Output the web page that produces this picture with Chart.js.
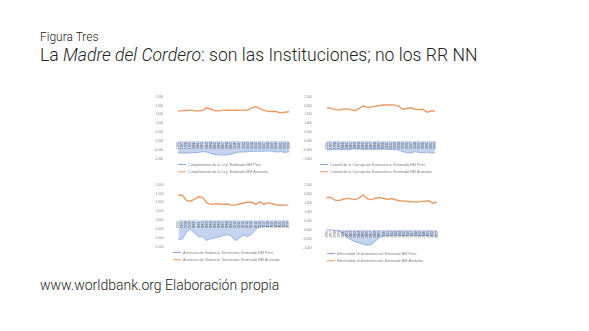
<!DOCTYPE html>
<html>
<head>
<meta charset="utf-8">
<script src="https://cdn.jsdelivr.net/npm/chart.js@4.4.1/dist/chart.umd.min.js"></script>
<style>
  body { margin: 0; width: 589px; height: 331px; background: #fff; position: relative; overflow: hidden; font-family: Roboto, "Liberation Sans", sans-serif; color: #222; }
  .t { position: absolute; white-space: nowrap; font-weight: 300; line-height: 1; }
  #sub { left: 40px; top: 31px; font-size: 12px; }
  #title { left: 40px; top: 47px; font-size: 17.6px; }
  #foot { left: 40px; top: 278px; font-size: 14px; }
  canvas { position: absolute; }
</style>
</head>
<body>
<div class="t" id="sub">Figura Tres</div>
<div class="t" id="title">La <i>Madre del Cordero</i>: son las Instituciones; no los RR NN</div>
<div class="t" id="foot">www.worldbank.org Elaboración propia</div>

<canvas id="c1" width="150" height="96" style="left:144px;top:88px"></canvas>
<canvas id="c2" width="150" height="96" style="left:293px;top:88px"></canvas>
<canvas id="c3" width="150" height="96" style="left:144px;top:176px"></canvas>
<canvas id="c4" width="150" height="97" style="left:293px;top:176px"></canvas>

<script>
const years = ['1996', '1997', '1998', '1999', '2000', '2001', '2002', '2003', '2004', '2005',
  '2006', '2007', '2008', '2009', '2010', '2011', '2012', '2013', '2014', '2015',
  '2016', '2017', '2018', '2019', '2020', '2021', '2022', '2023'];

// Cumplimiento de la Ley
const peruLey = [-0.65, -0.66, -0.66, -0.65, -0.64, -0.62, -0.58, -0.60, -0.68, -0.74, -0.76, -0.77, -0.76, -0.72,
  -0.64, -0.60, -0.60, -0.58, -0.56, -0.55, -0.56, -0.55, -0.54, -0.56, -0.60, -0.58, -0.62, -0.58];
const ausLey = [1.71, 1.72, 1.74, 1.75, 1.72, 1.71, 1.74, 1.88, 1.80, 1.72, 1.71, 1.74, 1.75, 1.74,
  1.75, 1.74, 1.75, 1.76, 1.88, 1.94, 1.82, 1.74, 1.67, 1.69, 1.66, 1.60, 1.63, 1.66];

// Control de la Corrupción Burocrática
const peruCorr = [-0.48, -0.48, -0.45, -0.45, -0.45, -0.47, -0.45, -0.42, -0.44, -0.46, -0.45, -0.45, -0.44, -0.45,
  -0.44, -0.45, -0.46, -0.45, -0.50, -0.58, -0.64, -0.65, -0.58, -0.62, -0.65, -0.60, -0.66, -0.64];
const ausCorr = [1.88, 1.86, 1.78, 1.75, 1.80, 1.82, 1.78, 1.72, 1.84, 1.98, 1.92, 1.92, 1.96, 2.00,
  2.04, 2.04, 2.04, 2.03, 1.96, 1.80, 1.84, 1.88, 1.80, 1.78, 1.80, 1.64, 1.70, 1.70];

// Ausencia de Violencia Terrorismo
const peruViol = [-1.05, -1.05, -0.65, -0.48, -0.72, -0.92, -0.92, -1.12, -1.02, -0.98, -0.92, -0.85, -0.80, -0.88,
  -1.14, -0.98, -0.82, -0.90, -0.78, -0.50, -0.35, -0.30, -0.35, -0.30, -0.32, -0.35, -0.30, -0.35];
const ausViol = [1.41, 1.41, 1.12, 1.08, 1.20, 1.33, 1.28, 0.98, 0.90, 0.92, 0.92, 0.90, 0.92, 0.86,
  0.86, 0.92, 0.98, 1.02, 1.02, 0.90, 1.04, 0.90, 1.00, 0.94, 0.88, 0.85, 0.86, 0.86];

// Efectividad Gubernamental
const peruGob = [0.02, 0.00, -0.02, -0.05, -0.20, -0.40, -0.55, -0.65, -0.72, -0.78, -0.84, -0.80, -0.60, -0.40,
  -0.30, -0.30, -0.30, -0.28, -0.30, -0.32, -0.30, -0.28, -0.30, -0.32, -0.30, -0.32, -0.33, -0.35];
const ausGob = [1.80, 1.80, 1.65, 1.63, 1.70, 1.75, 1.72, 1.68, 1.78, 1.94, 1.72, 1.68, 1.76, 1.80,
  1.74, 1.70, 1.74, 1.66, 1.62, 1.60, 1.58, 1.56, 1.55, 1.57, 1.60, 1.62, 1.48, 1.55];

const indicatorNames = ['Cumplimiento de la Ley', 'Control de la Corrupción Burocrática',
  'Ausencia de Violencia Terrorismo', 'Efectividad Gubernamental'];
const yRanges = [[-1, 2.5], [-1, 2.5], [-1.5, 2], [-1, 2.5]];

const PERU_FILL = '#c4d3ef';
const PERU_LINE = '#86a3dc';
const AUS_LINE = '#eb9a63';

// moves the legend so its rows start at a given x (canvas px)
const legendShift = {
  id: 'legendShift',
  afterLayout(chart, args, opts) {
    const lg = chart.legend;
    if (!lg || opts.x == null) return;
    const shift = opts.x - (lg.left + lg.options.labels.padding);
    lg.left += shift;
    lg.right += shift;
  }
};

function legendLabels(chart) {
  return Chart.defaults.plugins.legend.labels.generateLabels(chart)
    .map((item) => ({ ...item, fillStyle: item.strokeStyle, lineWidth: 0 }));
}

function fmt(v) {
  return v.toFixed(3).replace('.', ',');
}

function makeChart(id, peru, aus, idx, box) {
  const [yMin, yMax] = yRanges[idx];
  return new Chart(document.getElementById(id), {
    type: 'line',
    data: {
      labels: years,
      datasets: [
        {
          label: `${indicatorNames[idx]}: Estimado BM Peru`,
          data: peru,
          fill: 'origin',
          backgroundColor: PERU_FILL,
          borderColor: PERU_LINE,
          borderWidth: 0.8,
          pointRadius: 0,
          tension: 0
        },
        {
          label: `${indicatorNames[idx]}: Estimado BM Australia`,
          data: aus,
          fill: false,
          backgroundColor: AUS_LINE,
          borderColor: AUS_LINE,
          borderWidth: 1.4,
          pointRadius: 0,
          tension: 0
        }
      ]
    },
    options: {
      responsive: false,
      animation: false,
      layout: { padding: box.pad },
      plugins: {
        legend: {
          position: 'bottom',
          align: 'start',
          labels: {
            font: { size: 3.8 },
            color: '#7f7f7f',
            boxWidth: 8,
            boxHeight: 1,
            padding: 3.5,
            generateLabels: legendLabels
          }
        },
        tooltip: { enabled: false },
        legendShift: { x: box.legendX }
      },
      scales: {
        x: {
          position: { y: 0 },
          offset: false,
          grid: { display: false, drawTicks: false },
          border: { display: true, color: '#d4d4d4', width: 0.5 },
          ticks: {
            autoSkip: false,
            minRotation: 90,
            maxRotation: 90,
            font: { size: 3 },
            color: '#5a5a5a',
            padding: 1,
            z: 1
          },
          afterFit: (scale) => { scale.height = box.gap; }
        },
        y: {
          min: yMin,
          max: yMax,
          grid: { display: false },
          border: { display: false },
          ticks: {
            stepSize: 0.5,
            font: { size: 3 },
            color: '#7f7f7f',
            padding: 7,
            callback: (v) => fmt(v)
          }
        }
      }
    },
    plugins: [legendShift]
  });
}

makeChart('c1', peruLey, ausLey, 0, { pad: { left: 3.5, right: 5, top: 4.7, bottom: 0.25 }, gap: 1.85, legendX: 34 });
makeChart('c2', peruCorr, ausCorr, 1, { pad: { left: 3.2, right: 8, top: 4.7, bottom: 0.25 }, gap: 1.85, legendX: 27 });
makeChart('c3', peruViol, ausViol, 2, { pad: { left: 3.8, right: 5.7, top: 6.7, bottom: 0.25 }, gap: 0.45, legendX: 29 });
makeChart('c4', peruGob, ausGob, 3, { pad: { left: 3.2, right: 6.3, top: 6.3, bottom: 0.25 }, gap: 2.45, legendX: 34 });
</script>
</body>
</html>
